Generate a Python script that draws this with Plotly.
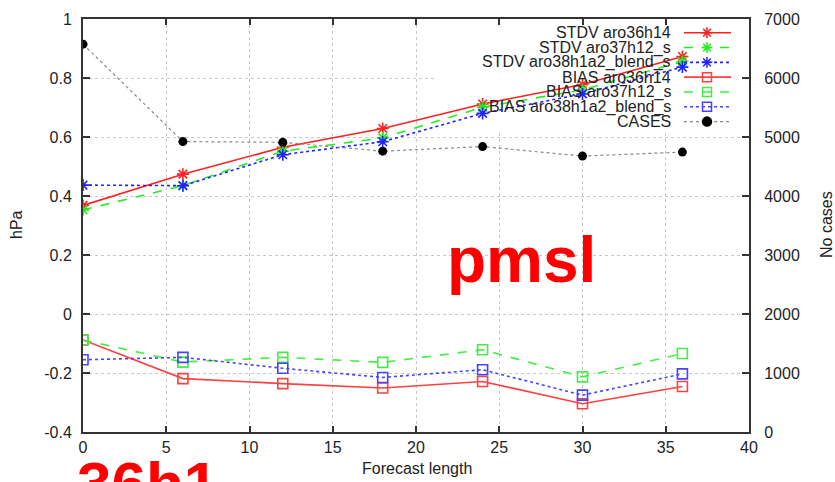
import plotly.graph_objects as go

# ---------------- data ----------------
lead = [0, 6, 12, 18, 24, 30, 36]
stdv_aro36h14 = [0.368, 0.474, 0.565, 0.629, 0.712, 0.778, 0.873]
stdv_aro37h12_s = [0.353, 0.435, 0.552, 0.597, 0.701, 0.760, 0.856]
stdv_aro38h1a2_blend_s = [0.437, 0.435, 0.540, 0.584, 0.680, 0.746, 0.837]
bias_aro36h14 = [-0.088, -0.219, -0.236, -0.251, -0.229, -0.304, -0.246]
bias_aro37h12_s = [-0.088, -0.163, -0.147, -0.164, -0.121, -0.213, -0.134]
bias_aro38h1a2_blend_s = [-0.155, -0.147, -0.184, -0.215, -0.189, -0.275, -0.203]
cases = [6573, 4922, 4910, 4760, 4838, 4677, 4744]

x_ticks = [0, 5, 10, 15, 20, 25, 30, 35, 40]
y_ticks = [-0.4, -0.2, 0, 0.2, 0.4, 0.6, 0.8, 1.0]
y_ticktext = ["-0.4", "-0.2", "0", "0.2", "0.4", "0.6", "0.8", "1"]
y2_ticks = [0, 1000, 2000, 3000, 4000, 5000, 6000, 7000]

legend_names = ["STDV aro36h14", "STDV aro37h12_s", "STDV aro38h1a2_blend_s",
                "BIAS aro36h14", "BIAS aro37h12_s", "BIAS aro38h1a2_blend_s", "CASES"]

# ---------------- layout geometry (pixels) ----------------
W, H = 835, 482
L, R, T, B = 83, 749, 11, 432
FONT = "Liberation Sans, Arial, Helvetica, sans-serif"
TXT = "#222222"

RED, GREEN, BLUE = "#ff2020", "#22ee22", "#2222ff"
RED_B, GREEN_B, BLUE_B = "#ff4040", "#44ee44", "#4444ff"

styles = [
    dict(color=RED, dash="solid", symbol="asterisk-open", y=stdv_aro36h14),
    dict(color=GREEN, dash="dash", symbol="asterisk-open", y=stdv_aro37h12_s),
    dict(color=BLUE, dash="dot", symbol="asterisk-open", y=stdv_aro38h1a2_blend_s),
    dict(color=RED_B, dash="solid", symbol="square-open", y=bias_aro36h14),
    dict(color=GREEN_B, dash="dash", symbol="square-open", y=bias_aro37h12_s),
    dict(color=BLUE_B, dash="dot", symbol="square-open", y=bias_aro38h1a2_blend_s),
]

fig = go.Figure()

# cases first (drawn beneath)
fig.add_trace(go.Scatter(
    x=lead, y=cases, yaxis="y2", mode="lines+markers", name="CASES",
    line=dict(color="#888888", width=1.2, dash="dot"),
    marker=dict(symbol="circle", size=9, color="black"),
    showlegend=False, hoverinfo="skip"))

for name, st in zip(legend_names[:6], styles):
    fig.add_trace(go.Scatter(
        x=lead, y=st["y"], mode="lines+markers", name=name,
        line=dict(color=st["color"], width=1.6, dash=st["dash"]),
        marker=dict(symbol=st["symbol"], size=10, color=st["color"],
                    line=dict(color=st["color"], width=1.6)),
        showlegend=False, hoverinfo="skip"))

# ---------------- custom legend (text left, sample right) ----------------
leg_y0, leg_dy = 25, 15.1
leg_line_x = [684, 731]
leg_mark_x = 707
leg_text_x = 673
leg_styles = styles + [dict(color="#888888", dash="dot", symbol="circle")]
for i, (name, st) in enumerate(zip(legend_names, leg_styles)):
    yy = leg_y0 + i * leg_dy
    is_case = name == "CASES"
    lc = "#888888" if is_case else st["color"]
    mc = "black" if is_case else st["color"]
    fig.add_trace(go.Scatter(
        x=leg_line_x, y=[yy, yy], xaxis="x3", yaxis="y3", mode="lines",
        line=dict(color=lc, width=1.2 if is_case else 1.6, dash=st["dash"]),
        showlegend=False, hoverinfo="skip"))
    fig.add_trace(go.Scatter(
        x=[leg_mark_x], y=[yy], xaxis="x3", yaxis="y3", mode="markers",
        marker=dict(symbol=st["symbol"], size=9 if is_case else 9, color=mc,
                    line=dict(color=mc, width=1.5)),
        showlegend=False, hoverinfo="skip"))


def px(xp):
    return (xp - L) / (R - L)


def py(yp):
    return (B - yp) / (B - T)


annotations = []
for i, name in enumerate(legend_names):
    annotations.append(dict(
        x=px(leg_text_x), y=py(leg_y0 + i * leg_dy), xref="paper", yref="paper",
        text=name, showarrow=False, xanchor="right", yanchor="middle",
        font=dict(family=FONT, size=16, color=TXT)))

# axis titles
annotations.append(dict(x=px(417), y=py(469), xref="paper", yref="paper", text="Forecast length",
                        showarrow=False, xanchor="center", yanchor="middle",
                        font=dict(family=FONT, size=16, color=TXT)))
annotations.append(dict(x=px(16), y=py(221), xref="paper", yref="paper", text="hPa",
                        showarrow=False, xanchor="center", yanchor="middle", textangle=-90,
                        font=dict(family=FONT, size=16, color=TXT)))
annotations.append(dict(x=px(826), y=py(221), xref="paper", yref="paper", text="No cases",
                        showarrow=False, xanchor="center", yanchor="middle", textangle=-90,
                        font=dict(family=FONT, size=16, color=TXT)))

# big red labels
annotations.append(dict(x=px(521), y=py(257), xref="paper", yref="paper", text="<b>pmsl</b>",
                        showarrow=False, xanchor="center", yanchor="middle",
                        font=dict(family=FONT, size=64, color="#ff0000")))
annotations.append(dict(x=px(75), y=py(485), xref="paper", yref="paper", text="<b>36h1</b>",
                        showarrow=False, xanchor="left", yanchor="middle",
                        font=dict(family=FONT, size=62, color="#ff0000")))

shapes = [
    # legend box background hiding grid lines
    dict(type="rect", xref="x", yref="y", x0=21.26, x1=40, y0=0.621, y1=1.0,
         fillcolor="white", line=dict(width=0), layer="between"),
]

axis_font = dict(family=FONT, size=16, color=TXT)
fig.update_layout(
    width=W, height=H,
    margin=dict(l=L, r=W - R, t=T, b=H - B, pad=0),
    paper_bgcolor="white", plot_bgcolor="white",
    showlegend=False,
    annotations=annotations,
    shapes=shapes,
    xaxis=dict(range=[0, 40], tickvals=x_ticks, ticks="inside", ticklen=6, tickwidth=1.5,
               tickcolor="#333333", showline=True, linecolor="#333333", linewidth=2,
               mirror="ticks", showgrid=True, gridcolor="#c8c8c8", griddash="dot", gridwidth=1,
               zeroline=False, tickfont=axis_font, ticklabelstandoff=0),
    yaxis=dict(range=[-0.4, 1.0], tickvals=y_ticks, ticktext=y_ticktext, ticks="inside",
               ticklen=7, tickwidth=1.5, tickcolor="#333333", showline=True,
               linecolor="#333333", linewidth=2, showgrid=True, gridcolor="#c8c8c8",
               griddash="dot", gridwidth=1, zeroline=False, tickfont=axis_font,
               ticklabelstandoff=6),
    yaxis2=dict(range=[0, 7000], tickvals=y2_ticks, ticktext=[str(v) for v in y2_ticks],
                overlaying="y", side="right", ticks="inside", ticklen=7, tickwidth=1.5,
                tickcolor="#333333", showline=True, linecolor="#333333", linewidth=2,
                showgrid=False, zeroline=False, tickfont=axis_font, ticklabelstandoff=10),
    xaxis3=dict(overlaying="x", range=[L, R], visible=False, anchor="y3"),
    yaxis3=dict(overlaying="y", range=[B, T], visible=False, anchor="x3"),
)

fig.write_html("out.html")
